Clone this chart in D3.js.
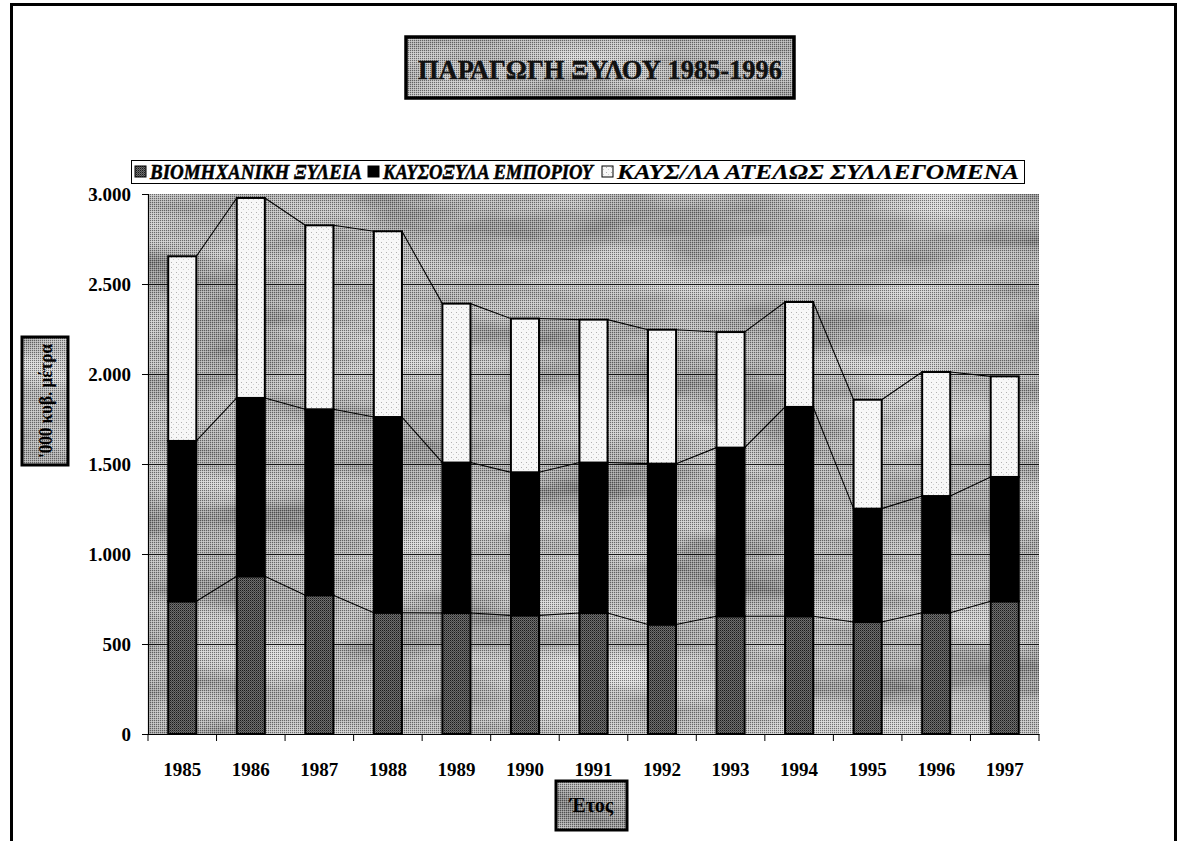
<!DOCTYPE html>
<html>
<head>
<meta charset="utf-8">
<script src="https://cdn.jsdelivr.net/npm/d3@7/dist/d3.min.js"></script>
<style>
  html, body { margin: 0; padding: 0; background: #ffffff; }
  svg { display: block; }
  text { font-family: "Liberation Serif", "Times New Roman", serif; }
</style>
</head>
<body>
<svg id="chart" width="1179" height="841"></svg>
<script>
// ---------------- DATA ----------------
const years = ["1985","1986","1987","1988","1989","1990","1991","1992","1993","1994","1995","1996","1997"];
const industrialWood = [737, 876, 771, 674, 672, 659, 672, 608, 654, 654, 622, 674, 737];
const commercialFirewood = [891, 991, 1033, 1087, 836, 795, 836, 894, 937, 1163, 630, 648, 691];
const uncollectedFirewood = [1026, 1111, 1022, 1032, 883, 854, 794, 744, 642, 583, 605, 689, 559];
const seriesNames = ["ΒΙΟΜΗΧΑΝΙΚΗ ΞΥΛΕΙΑ", "ΚΑΥΣΟΞΥΛΑ ΕΜΠΟΡΙΟΥ", "ΚΑΥΣ/ΛΑ ΑΤΕΛΩΣ ΣΥΛΛΕΓΟΜΕΝΑ"];
const yTickValues = [0, 500, 1000, 1500, 2000, 2500, 3000];
const titleText = "ΠΑΡΑΓΩΓΗ ΞΥΛΟΥ 1985-1996";
const yAxisTitle = "'000 κυβ. μέτρα";
const xAxisTitle = "Έτος";

// ---------------- SETUP ----------------
const svg = d3.select("#chart");
const defs = svg.append("defs");

// marble texture filter
const marble = defs.append("filter").attr("id", "marble")
  .attr("x", 0).attr("y", 0).attr("width", 1).attr("height", 1)
  .attr("filterUnits", "objectBoundingBox");
marble.append("feTurbulence").attr("type", "fractalNoise")
  .attr("baseFrequency", "0.006 0.02").attr("numOctaves", 4).attr("seed", 7).attr("result", "n");
marble.append("feColorMatrix").attr("type", "matrix")
  .attr("values", "1.0 0 0 0 0.02  1.0 0 0 0 0.02  1.0 0 0 0 0.02  0 0 0 0 1");

// halftone dither overlay
const dither = defs.append("pattern").attr("id", "dither")
  .attr("width", 2).attr("height", 2).attr("patternUnits", "userSpaceOnUse");
dither.append("rect").attr("x", 0).attr("y", 0).attr("width", 1).attr("height", 1).attr("fill", "#000").attr("opacity", 0.45);
dither.append("rect").attr("x", 1).attr("y", 1).attr("width", 1).attr("height", 1).attr("fill", "#fff").attr("opacity", 0.3);

// industrial wood pattern (dark dithered gray)
const indPat = defs.append("pattern").attr("id", "indPat")
  .attr("width", 2).attr("height", 2).attr("patternUnits", "userSpaceOnUse");
indPat.append("rect").attr("width", 2).attr("height", 2).attr("fill", "#6e6e6e");
indPat.append("rect").attr("x", 0).attr("y", 0).attr("width", 1).attr("height", 1).attr("fill", "#1a1a1a");
indPat.append("rect").attr("x", 1).attr("y", 1).attr("width", 1).attr("height", 1).attr("fill", "#444");

// uncollected pattern (speckled white)
const whitePat = defs.append("pattern").attr("id", "whitePat")
  .attr("width", 5).attr("height", 5).attr("patternUnits", "userSpaceOnUse");
whitePat.append("rect").attr("width", 5).attr("height", 5).attr("fill", "#f7f7f7");
whitePat.append("rect").attr("x", 1).attr("y", 2).attr("width", 1).attr("height", 1).attr("fill", "#b0b0b0");
whitePat.append("rect").attr("x", 3).attr("y", 4).attr("width", 1).attr("height", 1).attr("fill", "#d0d0d0");

const fills = ["url(#indPat)", "#000000", "url(#whitePat)"];

function texturedBox(g, x, y, w, h, strokeW) {
  g.append("rect").attr("x", x).attr("y", y).attr("width", w).attr("height", h).attr("fill", "#979797");
  g.append("rect").attr("x", x).attr("y", y).attr("width", w).attr("height", h)
    .attr("filter", "url(#marble)").attr("opacity", 0.8);
  g.append("rect").attr("x", x).attr("y", y).attr("width", w).attr("height", h).attr("fill", "url(#dither)");
  if (strokeW) {
    g.append("rect").attr("x", x).attr("y", y).attr("width", w).attr("height", h)
      .attr("fill", "none").attr("stroke", "#000").attr("stroke-width", strokeW);
  }
}

// outer frame
svg.append("rect").attr("x", 11.5).attr("y", 4.5).attr("width", 1164).attr("height", 860)
  .attr("fill", "none").attr("stroke", "#000").attr("stroke-width", 3);

// ---------------- SCALES ----------------
const plotLeft = 148, plotRight = 1039, plotTop = 194, plotBottom = 734;
const x = d3.scaleBand().domain(years).range([plotLeft, plotRight]).paddingInner(0.59).paddingOuter(0.295);
const y = d3.scaleLinear().domain([0, 3000]).range([plotBottom, plotTop]);

// plot background
const bg = svg.append("g");
texturedBox(bg, plotLeft, plotTop, plotRight - plotLeft, plotBottom - plotTop, 0);

// gridlines
svg.append("g").selectAll("line").data(yTickValues.filter(v => v > 0 && v < 3000)).join("line")
  .attr("x1", plotLeft).attr("x2", plotRight)
  .attr("y1", d => Math.round(y(d)) + 0.5).attr("y2", d => Math.round(y(d)) + 0.5)
  .attr("stroke", "#000").attr("stroke-width", 1).attr("opacity", 0.85);

// ---------------- STACK ----------------
const table = years.map((yr, i) => ({ year: yr, a: industrialWood[i], b: commercialFirewood[i], c: uncollectedFirewood[i] }));
const stack = d3.stack().keys(["a", "b", "c"]);
const stacked = stack(table);

// series lines (connecting tops of each stacked segment)
const lineG = svg.append("g");
stacked.forEach(layer => {
  for (let i = 0; i < layer.length - 1; i++) {
    const d0 = layer[i], d1 = layer[i + 1];
    lineG.append("line")
      .attr("x1", x(d0.data.year) + x.bandwidth()).attr("y1", y(d0[1]))
      .attr("x2", x(d1.data.year)).attr("y2", y(d1[1]))
      .attr("stroke", "#000").attr("stroke-width", 1.1);
  }
});

// bars
const barG = svg.append("g");
stacked.forEach((layer, li) => {
  barG.append("g").selectAll("rect").data(layer).join("rect")
    .attr("x", d => x(d.data.year))
    .attr("y", d => y(d[1]))
    .attr("width", x.bandwidth())
    .attr("height", d => y(d[0]) - y(d[1]))
    .attr("fill", fills[li])
    .attr("stroke", "#000").attr("stroke-width", 2);
});

// ---------------- AXES ----------------
const locale = d3.formatLocale({ decimal: ",", thousands: ".", grouping: [3], currency: ["", ""] });
const fmt = locale.format(",");

const yAxis = d3.axisLeft(y).tickValues(yTickValues).tickFormat(fmt).tickSize(6).tickPadding(11);
const yg = svg.append("g").attr("transform", `translate(${plotLeft},0)`).call(yAxis);
yg.select(".domain").attr("stroke", "#000").attr("stroke-width", 1.2);
yg.selectAll(".tick line").attr("stroke", "#000");
yg.selectAll(".tick text").attr("font-family", "Liberation Serif, serif").attr("font-weight", "bold")
  .attr("font-size", 19).attr("fill", "#000");

const xAxis = d3.axisBottom(x).tickSize(0).tickPadding(29);
const xg = svg.append("g").attr("transform", `translate(0,${plotBottom})`).call(xAxis);
xg.select(".domain").attr("stroke", "#000").attr("stroke-width", 1.2);
xg.selectAll(".tick text").attr("font-family", "Liberation Serif, serif").attr("font-weight", "bold")
  .attr("font-size", 19).attr("fill", "#000");
// category separator ticks
const sepPos = years.map(yr => x(yr) - (x.step() - x.bandwidth()) / 2).concat([plotRight]);
xg.append("g").selectAll("line").data(sepPos).join("line")
  .attr("x1", d => d).attr("x2", d => d).attr("y1", 0).attr("y2", 7)
  .attr("stroke", "#000").attr("stroke-width", 1);

// ---------------- TITLE ----------------
const tg = svg.append("g");
texturedBox(tg, 406, 37, 388, 61, 3.5);
tg.append("text").attr("x", 600).attr("y", 79).attr("text-anchor", "middle")
  .attr("font-size", 28).attr("font-weight", "bold").attr("fill", "#111")
  .attr("stroke", "#111").attr("stroke-width", 0.4)
  .attr("textLength", 364).attr("lengthAdjust", "spacingAndGlyphs")
  .text(titleText);

// ---------------- LEGEND ----------------
const lg = svg.append("g");
lg.append("rect").attr("x", 131.5).attr("y", 160.5).attr("width", 893).attr("height", 23)
  .attr("fill", "#fff").attr("stroke", "#000").attr("stroke-width", 1);
const legItems = [
  { x: 135, tx: 150, tw: 212 },
  { x: 368, tx: 383, tw: 210 },
  { x: 602, tx: 617, tw: 402 }
];
seriesNames.forEach((name, i) => {
  const it = legItems[i];
  lg.append("rect").attr("x", it.x).attr("y", 166).attr("width", 11).attr("height", 11)
    .attr("fill", fills[i]).attr("stroke", "#000").attr("stroke-width", 1);
  lg.append("text").attr("x", it.tx).attr("y", 179)
    .attr("font-size", 21).attr("font-weight", "bold").attr("font-style", "italic").attr("fill", "#000")
    .attr("stroke", "#000").attr("stroke-width", i < 2 ? 0.5 : 0.2)
    .attr("textLength", it.tw).attr("lengthAdjust", "spacingAndGlyphs")
    .text(name);
});

// ---------------- AXIS TITLES ----------------
const yt = svg.append("g");
texturedBox(yt, 22, 337, 46, 128, 3);
yt.append("text").attr("transform", "translate(51.5,401) rotate(-90)").attr("text-anchor", "middle")
  .attr("font-size", 18).attr("font-weight", "bold").attr("fill", "#000")
  .attr("textLength", 114).attr("lengthAdjust", "spacingAndGlyphs")
  .text(yAxisTitle);

const xt = svg.append("g");
texturedBox(xt, 556, 781, 71, 49, 3);
xt.append("text").attr("x", 591.5).attr("y", 812).attr("text-anchor", "middle")
  .attr("font-size", 20).attr("font-weight", "bold").attr("fill", "#000")
  .text(xAxisTitle);
</script>
</body>
</html>
